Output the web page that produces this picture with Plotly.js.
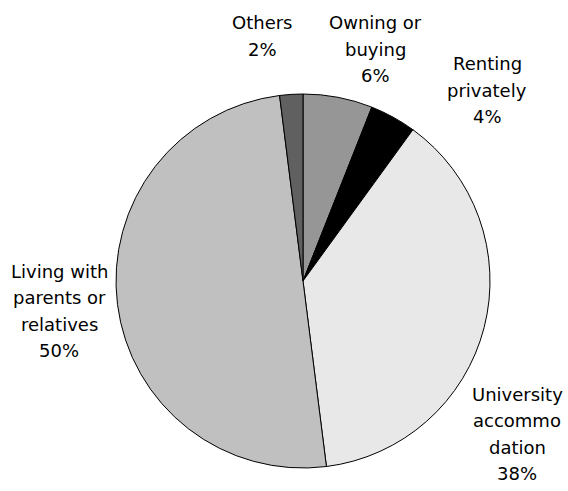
<!DOCTYPE html>
<html>
<head>
<meta charset="utf-8">
<script src="https://cdn.plot.ly/plotly-3.0.1.min.js"></script>
<style>html,body{margin:0;padding:0;background:#fff;}#chart{width:568px;height:491px;}</style>
</head>
<body>
<div id="chart"></div>
<script>
// Data
var categories = ["Owning or buying", "Renting privately", "University accommodation", "Living with parents or relatives", "Others"];
var labelLines = [["Owning or", "buying"], ["Renting", "privately"], ["University", "accommo", "dation"], ["Living with", "parents or", "relatives"], ["Others"]];
var shares = [6, 4, 38, 50, 2];

// Styles / layout (not data)
var sliceColors = ["#969696", "#000000", "#e8e8e8", "#c0c0c0", "#606060"];
var labelPos = [ // pixel centres of outside label blocks
  [375, 49], [487, 90], [517, 434], [59, 311], [262, 36]
];
var lineGap = 26.5;
var W = 568, H = 491;

var trace = {
  type: "pie",
  labels: categories,
  values: shares,
  sort: false,
  direction: "clockwise",
  rotation: 0,
  textinfo: "none",
  hoverinfo: "label+percent",
  marker: {colors: sliceColors, line: {color: "#000000", width: 1}},
  domain: {x: [(303 - 187) / W, (303 + 187) / W], y: [1 - 468 / H, 1 - 94 / H]},
  showlegend: false
};

var total = shares.reduce(function(a, b) { return a + b; }, 0);
var annotations = [];
categories.forEach(function(c, i) {
  var lines = labelLines[i].concat([Math.round(shares[i] / total * 100) + "%"]);
  var n = lines.length;
  lines.forEach(function(t, j) {
    var py = labelPos[i][1] + (j - (n - 1) / 2) * lineGap;
    annotations.push({
      x: labelPos[i][0] / W, y: 1 - py / H,
      xref: "paper", yref: "paper", xanchor: "center", yanchor: "middle",
      showarrow: false, align: "center",
      text: t,
      font: {family: "DejaVu Sans, Verdana, sans-serif", size: 18, color: "#000000"}
    });
  });
});

Plotly.newPlot("chart", [trace], {
  width: W, height: H,
  margin: {l: 0, r: 0, t: 0, b: 0},
  paper_bgcolor: "#ffffff",
  annotations: annotations
}, {displayModeBar: false, staticPlot: true});
</script>
</body>
</html>
